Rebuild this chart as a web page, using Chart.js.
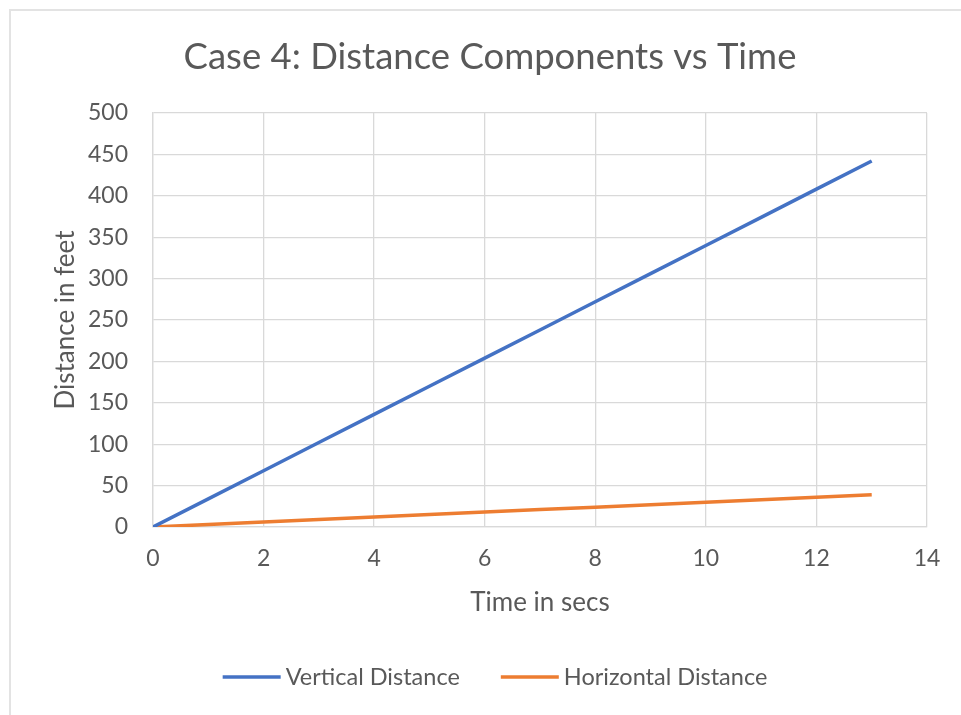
<!DOCTYPE html>
<html>
<head>
<meta charset="utf-8">
<script src="https://cdn.jsdelivr.net/npm/chart.js@4/dist/chart.umd.min.js"></script>
<style>
  html, body { margin: 0; padding: 0; background: #fff; }
  #wrap { position: relative; width: 961px; height: 715px; }
  canvas { display: block; }
</style>
</head>
<body>
<div id="wrap"><canvas id="c" width="961" height="715"></canvas></div>
<script>
const chartTitle = "Case 4: Distance Components vs Time";
const xAxisTitle = "Time in secs";
const yAxisTitle = "Distance in feet";
const seriesNames = ["Vertical Distance", "Horizontal Distance"];
const seriesColors = ["#4472C4", "#ED7D31"];
const timeSecs = [0, 1, 2, 3, 4, 5, 6, 7, 8, 9, 10, 11, 12, 13];
const verticalDistance = [0, 34, 68, 102, 136, 170, 204, 238, 272, 306, 340, 374, 408, 442];
const horizontalDistance = [0, 3, 6, 9, 12, 15, 18, 21, 24, 27, 30, 33, 36, 39];
const xTicks = [0, 2, 4, 6, 8, 10, 12, 14];
const yTicks = [0, 50, 100, 150, 200, 250, 300, 350, 400, 450, 500];

const FONT = "Lato, 'Open Sans', sans-serif";
const TXT = "#595959";

const toPts = (xs, ys) => xs.map((x, i) => ({ x: x, y: ys[i] }));

const frame = {
  id: 'frame',
  beforeDraw(chart) {
    const ctx = chart.ctx;
    ctx.save();
    ctx.fillStyle = '#fff';
    ctx.fillRect(0, 0, chart.width, chart.height);
    ctx.strokeStyle = '#e3e3e3';
    ctx.lineWidth = 2;
    ctx.beginPath();
    ctx.moveTo(10, chart.height);
    ctx.lineTo(10, 10);
    ctx.lineTo(chart.width, 10);
    ctx.stroke();
    ctx.restore();
  },
  afterDraw(chart) {
    const ctx = chart.ctx;
    ctx.save();
    // title
    ctx.fillStyle = TXT;
    ctx.font = "36.5px " + FONT;
    ctx.textAlign = 'center';
    ctx.textBaseline = 'middle';
    ctx.fillText(chartTitle, 490, 57);
    // legend
    ctx.font = "23.5px " + FONT;
    ctx.textAlign = 'left';
    const legendY = 677;
    const lineLen = 58, gap = 5, itemGap = 41;
    const w0 = ctx.measureText(seriesNames[0]).width;
    const w1 = ctx.measureText(seriesNames[1]).width;
    const total = lineLen + gap + w0 + itemGap + lineLen + gap + w1;
    let x = 495 - total / 2;
    seriesNames.forEach((name, i) => {
      ctx.strokeStyle = seriesColors[i];
      ctx.lineWidth = 3.5;
      ctx.lineCap = 'butt';
      ctx.beginPath();
      ctx.moveTo(x, legendY);
      ctx.lineTo(x + lineLen, legendY);
      ctx.stroke();
      x += lineLen + gap;
      ctx.fillStyle = TXT;
      ctx.fillText(name, x, legendY);
      x += ctx.measureText(name).width + itemGap;
    });
    ctx.restore();
  }
};

new Chart(document.getElementById('c'), {
  type: 'scatter',
  data: {
    datasets: [
      { label: seriesNames[0], data: toPts(timeSecs, verticalDistance), showLine: true,
        borderColor: seriesColors[0], backgroundColor: seriesColors[0], borderWidth: 3.5, pointRadius: 0, tension: 0 },
      { label: seriesNames[1], data: toPts(timeSecs, horizontalDistance), showLine: true,
        borderColor: seriesColors[1], backgroundColor: seriesColors[1], borderWidth: 3.5, pointRadius: 0, tension: 0 }
    ]
  },
  options: {
    responsive: false,
    animation: false,
    layout: { padding: { left: 15, right: 34, top: 113, bottom: 70 } },
    plugins: {
      title: { display: false },
      legend: { display: false },
      tooltip: { enabled: false }
    },
    scales: {
      x: {
        type: 'linear', min: 0, max: 14,
        afterBuildTicks: (s) => { s.ticks = xTicks.map(v => ({ value: v })); },
        afterFit: (s) => { s.height = 118; },
        grid: { color: '#d9d9d9', lineWidth: 1.3, drawTicks: false },
        border: { color: '#d9d9d9', width: 1.3 },
        ticks: { color: TXT, padding: 18, font: { family: FONT, size: 23 } },
        title: { display: true, text: xAxisTitle, color: TXT,
          font: { family: FONT, size: 26, lineHeight: 1.2 }, padding: { top: 0, bottom: 26.4 } }
      },
      y: {
        type: 'linear', min: 0, max: 500,
        afterBuildTicks: (s) => { s.ticks = yTicks.map(v => ({ value: v })); },
        afterFit: (s) => { s.width = 138; },
        grid: { color: '#d9d9d9', lineWidth: 1.3, drawTicks: false },
        border: { color: '#d9d9d9', width: 1.3 },
        ticks: { color: TXT, padding: 25, font: { family: FONT, size: 23 } },
        title: { display: true, text: yAxisTitle, color: TXT,
          font: { family: FONT, size: 26, lineHeight: 1.2 }, padding: { top: 35.4, bottom: 0 } }
      }
    }
  },
  plugins: [frame]
});
</script>
</body>
</html>
